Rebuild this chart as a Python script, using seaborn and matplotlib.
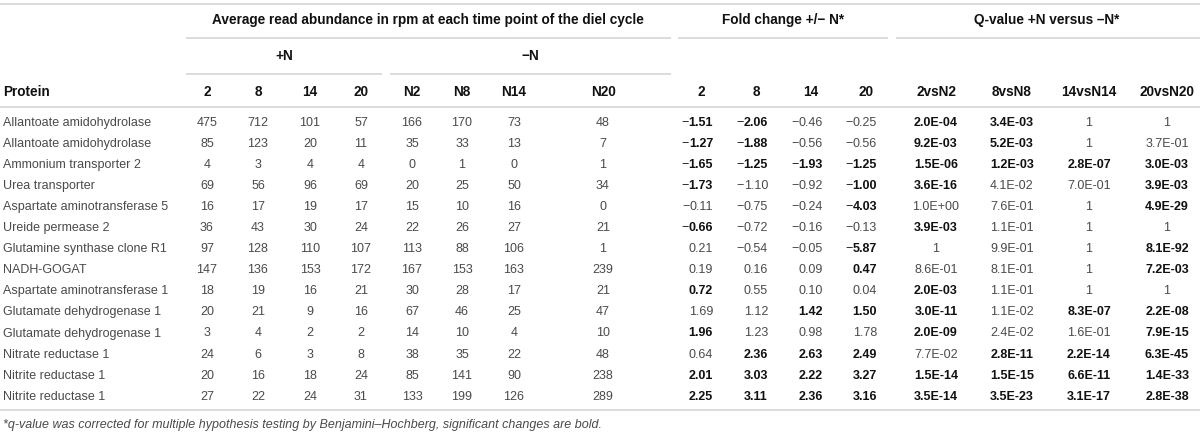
import matplotlib
matplotlib.use("Agg")
import matplotlib.pyplot as plt
import seaborn as sns

# ---------------- data ----------------
proteins = [
    "Allantoate amidohydrolase", "Allantoate amidohydrolase", "Ammonium transporter 2",
    "Urea transporter", "Aspartate aminotransferase 5", "Ureide permease 2",
    "Glutamine synthase clone R1", "NADH-GOGAT", "Aspartate aminotransferase 1",
    "Glutamate dehydrogenase 1", "Glutamate dehydrogenase 1", "Nitrate reductase 1",
    "Nitrite reductase 1", "Nitrite reductase 1",
]
plus_cols = ["2", "8", "14", "20"]
minus_cols = ["N2", "N8", "N14", "N20"]
fc_cols = ["2", "8", "14", "20"]
q_cols = ["2vsN2", "8vsN8", "14vsN14", "20vsN20"]

abund_plus = [
    [475, 712, 101, 57], [85, 123, 20, 11], [4, 3, 4, 4], [69, 56, 96, 69],
    [16, 17, 19, 17], [36, 43, 30, 24], [97, 128, 110, 107], [147, 136, 153, 172],
    [18, 19, 16, 21], [20, 21, 9, 16], [3, 4, 2, 2], [24, 6, 3, 8],
    [20, 16, 18, 24], [27, 22, 24, 31],
]
abund_minus = [
    [166, 170, 73, 48], [35, 33, 13, 7], [0, 1, 0, 1], [20, 25, 50, 34],
    [15, 10, 16, 0], [22, 26, 27, 21], [113, 88, 106, 1], [167, 153, 163, 239],
    [30, 28, 17, 21], [67, 46, 25, 47], [14, 10, 4, 10], [38, 35, 22, 48],
    [85, 141, 90, 238], [133, 199, 126, 289],
]
fold_change = [
    [-1.51, -2.06, -0.46, -0.25], [-1.27, -1.88, -0.56, -0.56], [-1.65, -1.25, -1.93, -1.25],
    [-1.73, -1.10, -0.92, -1.00], [-0.11, -0.75, -0.24, -4.03], [-0.66, -0.72, -0.16, -0.13],
    [0.21, -0.54, -0.05, -5.87], [0.19, 0.16, 0.09, 0.47], [0.72, 0.55, 0.10, 0.04],
    [1.69, 1.12, 1.42, 1.50], [1.96, 1.23, 0.98, 1.78], [0.64, 2.36, 2.63, 2.49],
    [2.01, 3.03, 2.22, 3.27], [2.25, 3.11, 2.36, 3.16],
]
fc_bold = [
    [1, 1, 0, 0], [1, 1, 0, 0], [1, 1, 1, 1], [1, 0, 0, 1], [0, 0, 0, 1], [1, 0, 0, 0],
    [0, 0, 0, 1], [0, 0, 0, 1], [1, 0, 0, 0], [0, 0, 1, 1], [1, 0, 0, 0], [0, 1, 1, 1],
    [1, 1, 1, 1], [1, 1, 1, 1],
]
q_values = [
    ["2.0E-04", "3.4E-03", "1", "1"], ["9.2E-03", "5.2E-03", "1", "3.7E-01"],
    ["1.5E-06", "1.2E-03", "2.8E-07", "3.0E-03"], ["3.6E-16", "4.1E-02", "7.0E-01", "3.9E-03"],
    ["1.0E+00", "7.6E-01", "1", "4.9E-29"], ["3.9E-03", "1.1E-01", "1", "1"],
    ["1", "9.9E-01", "1", "8.1E-92"], ["8.6E-01", "8.1E-01", "1", "7.2E-03"],
    ["2.0E-03", "1.1E-01", "1", "1"], ["3.0E-11", "1.1E-02", "8.3E-07", "2.2E-08"],
    ["2.0E-09", "2.4E-02", "1.6E-01", "7.9E-15"], ["7.7E-02", "2.8E-11", "2.2E-14", "6.3E-45"],
    ["1.5E-14", "1.5E-15", "6.6E-11", "1.4E-33"], ["3.5E-14", "3.5E-23", "3.1E-17", "2.8E-38"],
]
q_bold = [
    [1, 1, 0, 0], [1, 1, 0, 0], [1, 1, 1, 1], [1, 0, 0, 1], [0, 0, 0, 1], [1, 0, 0, 0],
    [0, 0, 0, 1], [0, 0, 0, 1], [1, 0, 0, 0], [1, 0, 1, 1], [1, 0, 0, 1], [0, 1, 1, 1],
    [1, 1, 1, 1], [1, 1, 1, 1],
]
group_title = "Average read abundance in rpm at each time point of the diel cycle"
fc_title = "Fold change +/\u2212 N*"
q_title = "Q-value +N versus \u2013N*"
footnote = ("*q-value was corrected for multiple hypothesis testing by "
            "Benjamini\u2013Hochberg, significant changes are bold.")

# ---------------- layout / style ----------------
sns.set_theme(style="white")
plt.rcParams["font.family"] = ["Liberation Sans", "DejaVu Sans"]
FS = 9.0
FSH = 9.8
REG = "#4a4a4a"
BLD = "#111111"
LINE = "#d6d6d6"

W, H = 1200, 434
fig = plt.figure(figsize=(W / 100, H / 100), dpi=100)
ax = fig.add_axes([0, 0, 1, 1])
ax.set_xlim(0, W)
ax.set_ylim(H, 0)
ax.axis("off")

x_plus = [207, 258, 310, 361]
x_minus = [412, 462, 514, 603]
x_fc_head = [701, 756, 811, 866]
x_fc_right = [713, 768, 823, 877]
x_q = [936, 1012, 1089, 1167]
y_title, y_group, y_head = 20, 56, 92
row0, dy = 123, 21.05


def hline(y, x0, x1):
    ax.plot([x0, x1], [y, y], color=LINE, lw=1.2, solid_capstyle="butt")


hline(4, 0, W)
hline(38, 186, 671)
hline(38, 678, 888)
hline(38, 896, W)
hline(74, 186, 382)
hline(74, 390, 671)
hline(107, 0, W)
hline(410, 0, W)

hb = dict(fontsize=FSH, fontweight="bold", color=BLD, va="center")
ax.text(428, y_title, group_title, ha="center", **hb)
ax.text(783, y_title, fc_title, ha="center", **hb)
ax.text(1047, y_title, q_title, ha="center", **hb)
ax.text(284, y_group, "+N", ha="center", **hb)
ax.text(530, y_group, "\u2212N", ha="center", **hb)
ax.text(3, y_head, "Protein", ha="left", **hb)
for x, c in zip(x_plus, plus_cols):
    ax.text(x, y_head, c, ha="center", **hb)
for x, c in zip(x_minus, minus_cols):
    ax.text(x, y_head, c, ha="center", **hb)
for x, c in zip(x_fc_head, fc_cols):
    ax.text(x, y_head, c, ha="center", **hb)
for x, c in zip(x_q, q_cols):
    ax.text(x, y_head, c, ha="center", **hb)

reg = dict(fontsize=FS, color=REG, va="center")
for i, name in enumerate(proteins):
    y = row0 + i * dy
    ax.text(3, y, name, ha="left", **reg)
    for x, v in zip(x_plus, abund_plus[i]):
        ax.text(x, y, str(v), ha="center", **reg)
    for x, v in zip(x_minus, abund_minus[i]):
        ax.text(x, y, str(v), ha="center", **reg)
    for x, v, b in zip(x_fc_right, fold_change[i], fc_bold[i]):
        digits = f"{abs(v):.2f}"
        if b:
            t = ax.text(x, y, digits, ha="right", fontsize=FS, fontweight="bold",
                        color=BLD, va="center")
        else:
            t = ax.text(x, y, digits, ha="right", **reg)
        if v < 0:
            ax.annotate("\u2212", xy=(0, 0.5), xycoords=t, ha="right", va="center",
                        fontsize=FS, color=REG if not b else "#222222")
    for x, v, b in zip(x_q, q_values[i], q_bold[i]):
        if b:
            ax.text(x, y, v, ha="center", fontsize=FS, fontweight="bold",
                    color=BLD, va="center")
        else:
            ax.text(x, y, v, ha="center", **reg)

ax.text(3, 425, footnote, ha="left", va="center", fontsize=FS, style="italic", color=REG)

fig.savefig("out.png", dpi=100)
